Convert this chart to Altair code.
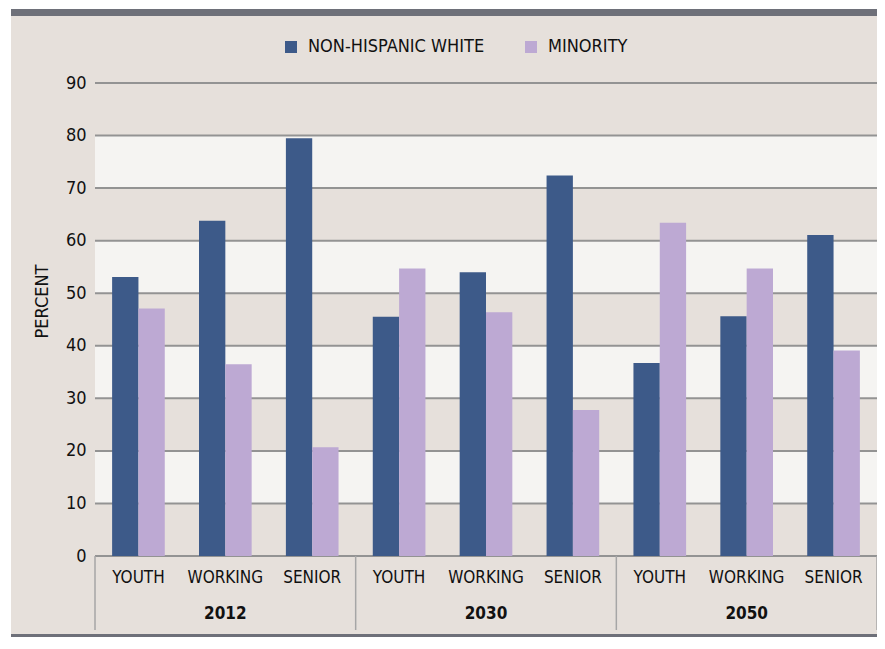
import altair as alt
import pandas as pd

# ---- data ----
years = ["2012", "2030", "2050"]
ages = ["YOUTH", "WORKING", "SENIOR"]
series = ["NON-HISPANIC WHITE", "MINORITY"]
white = [53.1, 63.8, 79.5, 45.5, 54.0, 72.4, 36.7, 45.6, 61.1]
minority = [47.1, 36.5, 20.7, 54.7, 46.4, 27.8, 63.4, 54.7, 39.1]
colors = ["#3d5a89", "#bda9d3"]
y_ticks = list(range(0, 100, 10))
band_lo = [10, 30, 50, 70]
band_hi = [20, 40, 60, 80]

keys = [f"{y}-{a}" for y in years for a in ages]
rows = []
for i, k in enumerate(keys):
    rows.append({"key": k, "series": series[0], "value": white[i]})
    rows.append({"key": k, "series": series[1], "value": minority[i]})
bars_df = pd.DataFrame(rows)
bands_df = pd.DataFrame({"lo": band_lo, "hi": band_hi})
grid_df = pd.DataFrame({"v": y_ticks})
sep_left_df = pd.DataFrame({"key": [f"{y}-{ages[0]}" for y in years]})
sep_right_df = pd.DataFrame({"key": [f"{years[-1]}-{ages[-1]}"]})
year_df = pd.DataFrame({"key": [f"{y}-{ages[1]}" for y in years], "year": years})
one = pd.DataFrame({"a": [0]})

W, H = 782, 473
PAD_L, PAD_T, PAD_R, PAD_B = 87, 75, 0, 81
FONT = "Liberation Sans Narrow, Arial Narrow, DejaVu Sans Condensed, sans-serif"
BEIGE = "#e6e0db"
LIGHT = "#f5f4f2"
DARK = "#6e7079"
GRID = "#939393"
TXT = "#111111"

xscale = alt.Scale(domain=keys, paddingInner=0, paddingOuter=0)
yscale = alt.Scale(domain=[0, 90], nice=False)

xax = alt.Axis(title=None, labelExpr="split(datum.label, '-')[1]", ticks=False,
               domain=False, grid=False, labelPadding=13, labelFontSize=17,
               labelColor=TXT, labelAngle=0, labelFont=FONT, zindex=1)
yax = alt.Axis(title="PERCENT", values=y_ticks, grid=False, ticks=False, domain=False,
               labelPadding=9, labelFontSize=18, labelColor=TXT, labelFont=FONT,
               titleFont=FONT, titleFontSize=18, titleFontWeight="normal",
               titleColor=TXT, titleAngle=270, titleX=-53, titleY=218,
               titleAlign="center", titleBaseline="middle", zindex=1)

frame_bg = alt.Chart(one).mark_rect(color=BEIGE).encode(
    x=alt.value(-84), x2=alt.value(W + PAD_R), y=alt.value(-67), y2=alt.value(H + PAD_B - 3))
top_bar = alt.Chart(one).mark_rect(color=DARK).encode(
    x=alt.value(-84), x2=alt.value(W + PAD_R), y=alt.value(-74), y2=alt.value(-67))
bottom_bar = alt.Chart(one).mark_rect(color=DARK).encode(
    x=alt.value(-84), x2=alt.value(W + PAD_R), y=alt.value(H + PAD_B - 3), y2=alt.value(H + PAD_B))

bands = alt.Chart(bands_df).mark_rect(color=LIGHT).encode(
    x=alt.value(0), x2=alt.value(W),
    y=alt.Y("lo:Q", scale=yscale, axis=yax), y2="hi:Q")

grid = alt.Chart(grid_df).mark_rule(color=GRID, strokeWidth=2).encode(
    x=alt.value(0), x2=alt.value(W),
    y=alt.Y("v:Q", scale=yscale, axis=yax))

bars = alt.Chart(bars_df).mark_bar().encode(
    x=alt.X("key:N", scale=xscale, axis=xax, sort=keys),
    xOffset=alt.XOffset("series:N", sort=series,
                        scale=alt.Scale(domain=series, paddingInner=0, paddingOuter=0.65)),
    y=alt.Y("value:Q", scale=yscale, axis=yax),
    color=alt.Color("series:N", sort=series,
                    scale=alt.Scale(domain=series, range=colors),
                    legend=alt.Legend(title=None, orient="none", legendX=187, legendY=-45,
                                      direction="horizontal", symbolType="square",
                                      symbolSize=144, symbolStrokeWidth=0,
                                      labelFontSize=18, labelFont=FONT, labelLimit=400,
                                      labelColor=TXT, columnPadding=37,
                                      labelOffset=8)))

sep_left = alt.Chart(sep_left_df).mark_rule(color="#a6a6a6", strokeWidth=1.5).encode(
    x=alt.X("key:N", scale=xscale, axis=xax, bandPosition=0),
    y=alt.value(H), y2=alt.value(H + 74))
sep_right = alt.Chart(sep_right_df).mark_rule(color="#a6a6a6", strokeWidth=1.5).encode(
    x=alt.X("key:N", scale=xscale, axis=xax, bandPosition=1),
    y=alt.value(H), y2=alt.value(H + 74))

year_labels = alt.Chart(year_df).mark_text(
    font=FONT, fontSize=17, fontWeight="bold", color=TXT, baseline="middle").encode(
    x=alt.X("key:N", scale=xscale, axis=xax),
    y=alt.value(H + 58), text="year:N")

chart = alt.layer(
    frame_bg, top_bar, bottom_bar, bands, grid, bars, sep_left, sep_right, year_labels
).properties(
    width=W, height=H,
    padding={"left": PAD_L, "top": PAD_T, "right": PAD_R, "bottom": PAD_B},
    autosize=alt.AutoSizeParams(type="none"),
    background="white",
).configure_view(stroke=None)

chart.save("out.html", embed_options={"renderer": "svg", "actions": False})
